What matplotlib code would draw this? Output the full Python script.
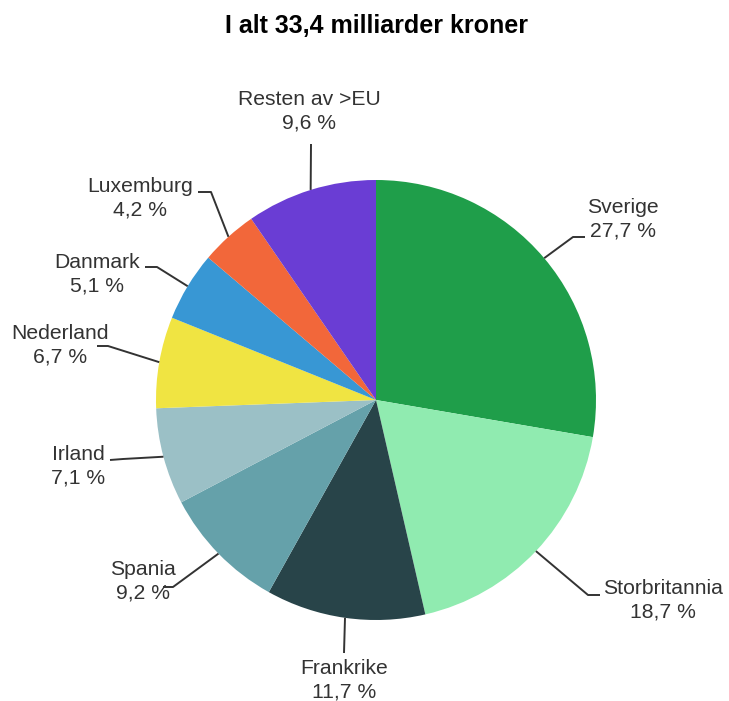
import numpy as np
import matplotlib
matplotlib.use("Agg")
import matplotlib.pyplot as plt

plt.rcParams['font.family'] = ['Liberation Sans', 'DejaVu Sans']

countries = ["Sverige", "Storbritannia", "Frankrike", "Spania", "Irland",
             "Nederland", "Danmark", "Luxemburg", "Resten av >EU"]
shares = [27.7, 18.7, 11.7, 9.2, 7.1, 6.7, 5.1, 4.2, 9.6]
colors = ["#1f9e4a", "#90ebb0", "#284449", "#65a1aa", "#9bc0c6",
          "#f0e442", "#3897d4", "#f2673a", "#6a3dd4"]
title = "I alt 33,4 milliarder kroner"

# label layout in pixel coords: (elbow, line end, text pos, ha)
layout = [
    ((573, 237), (585, 237), (587, 219), "left"),
    ((588, 595), (600, 595), (603, 600), "left"),
    ((344, 653), (344, 653), (344, 680), "center"),
    ((173, 587), (163, 587), (143, 581), "center"),
    ((123, 459), (110, 460), (78, 466), "center"),
    ((108, 346), (97, 346), (60, 345), "center"),
    ((157, 267), (145, 267), (97, 274), "center"),
    ((211, 192), (198, 192), (140, 198), "center"),
    ((311, 144), (311, 144), (309, 111), "center"),
]

W, H = 729, 701
cx, cy, r = 376, 400, 220

fig = plt.figure(figsize=(W / 100, H / 100), dpi=100)
ax = fig.add_axes([0, 0, 1, 1])
ax.axis("off")

# y axis is inverted, so counterclock=True runs clockwise on screen
wedges, _ = ax.pie(shares, colors=colors, startangle=-90, counterclock=True,
                   center=(cx, cy), radius=r,
                   wedgeprops=dict(linewidth=0))
ax.set_xlim(0, W)
ax.set_ylim(H, 0)
ax.set_aspect("equal")

for w, name, val, (elbow, end, tpos, ha) in zip(wedges, countries, shares, layout):
    mid = np.deg2rad((w.theta1 + w.theta2) / 2)
    ex, ey = cx + r * np.cos(mid), cy + r * np.sin(mid)
    ax.plot([ex, elbow[0], end[0]], [ey, elbow[1], end[1]],
            color="#333333", lw=1.4, solid_capstyle="butt")
    label = f"{name}\n{val:.1f} %".replace(".", ",")
    ax.text(tpos[0], tpos[1], label, ha=ha, va="center", multialignment="center",
            fontsize=15.2, color="#333333", linespacing=1.3)

ax.text(377, 26, title, ha="center", va="center", fontsize=18,
        fontweight="bold", color="black")

fig.savefig("out.png", dpi=100)
